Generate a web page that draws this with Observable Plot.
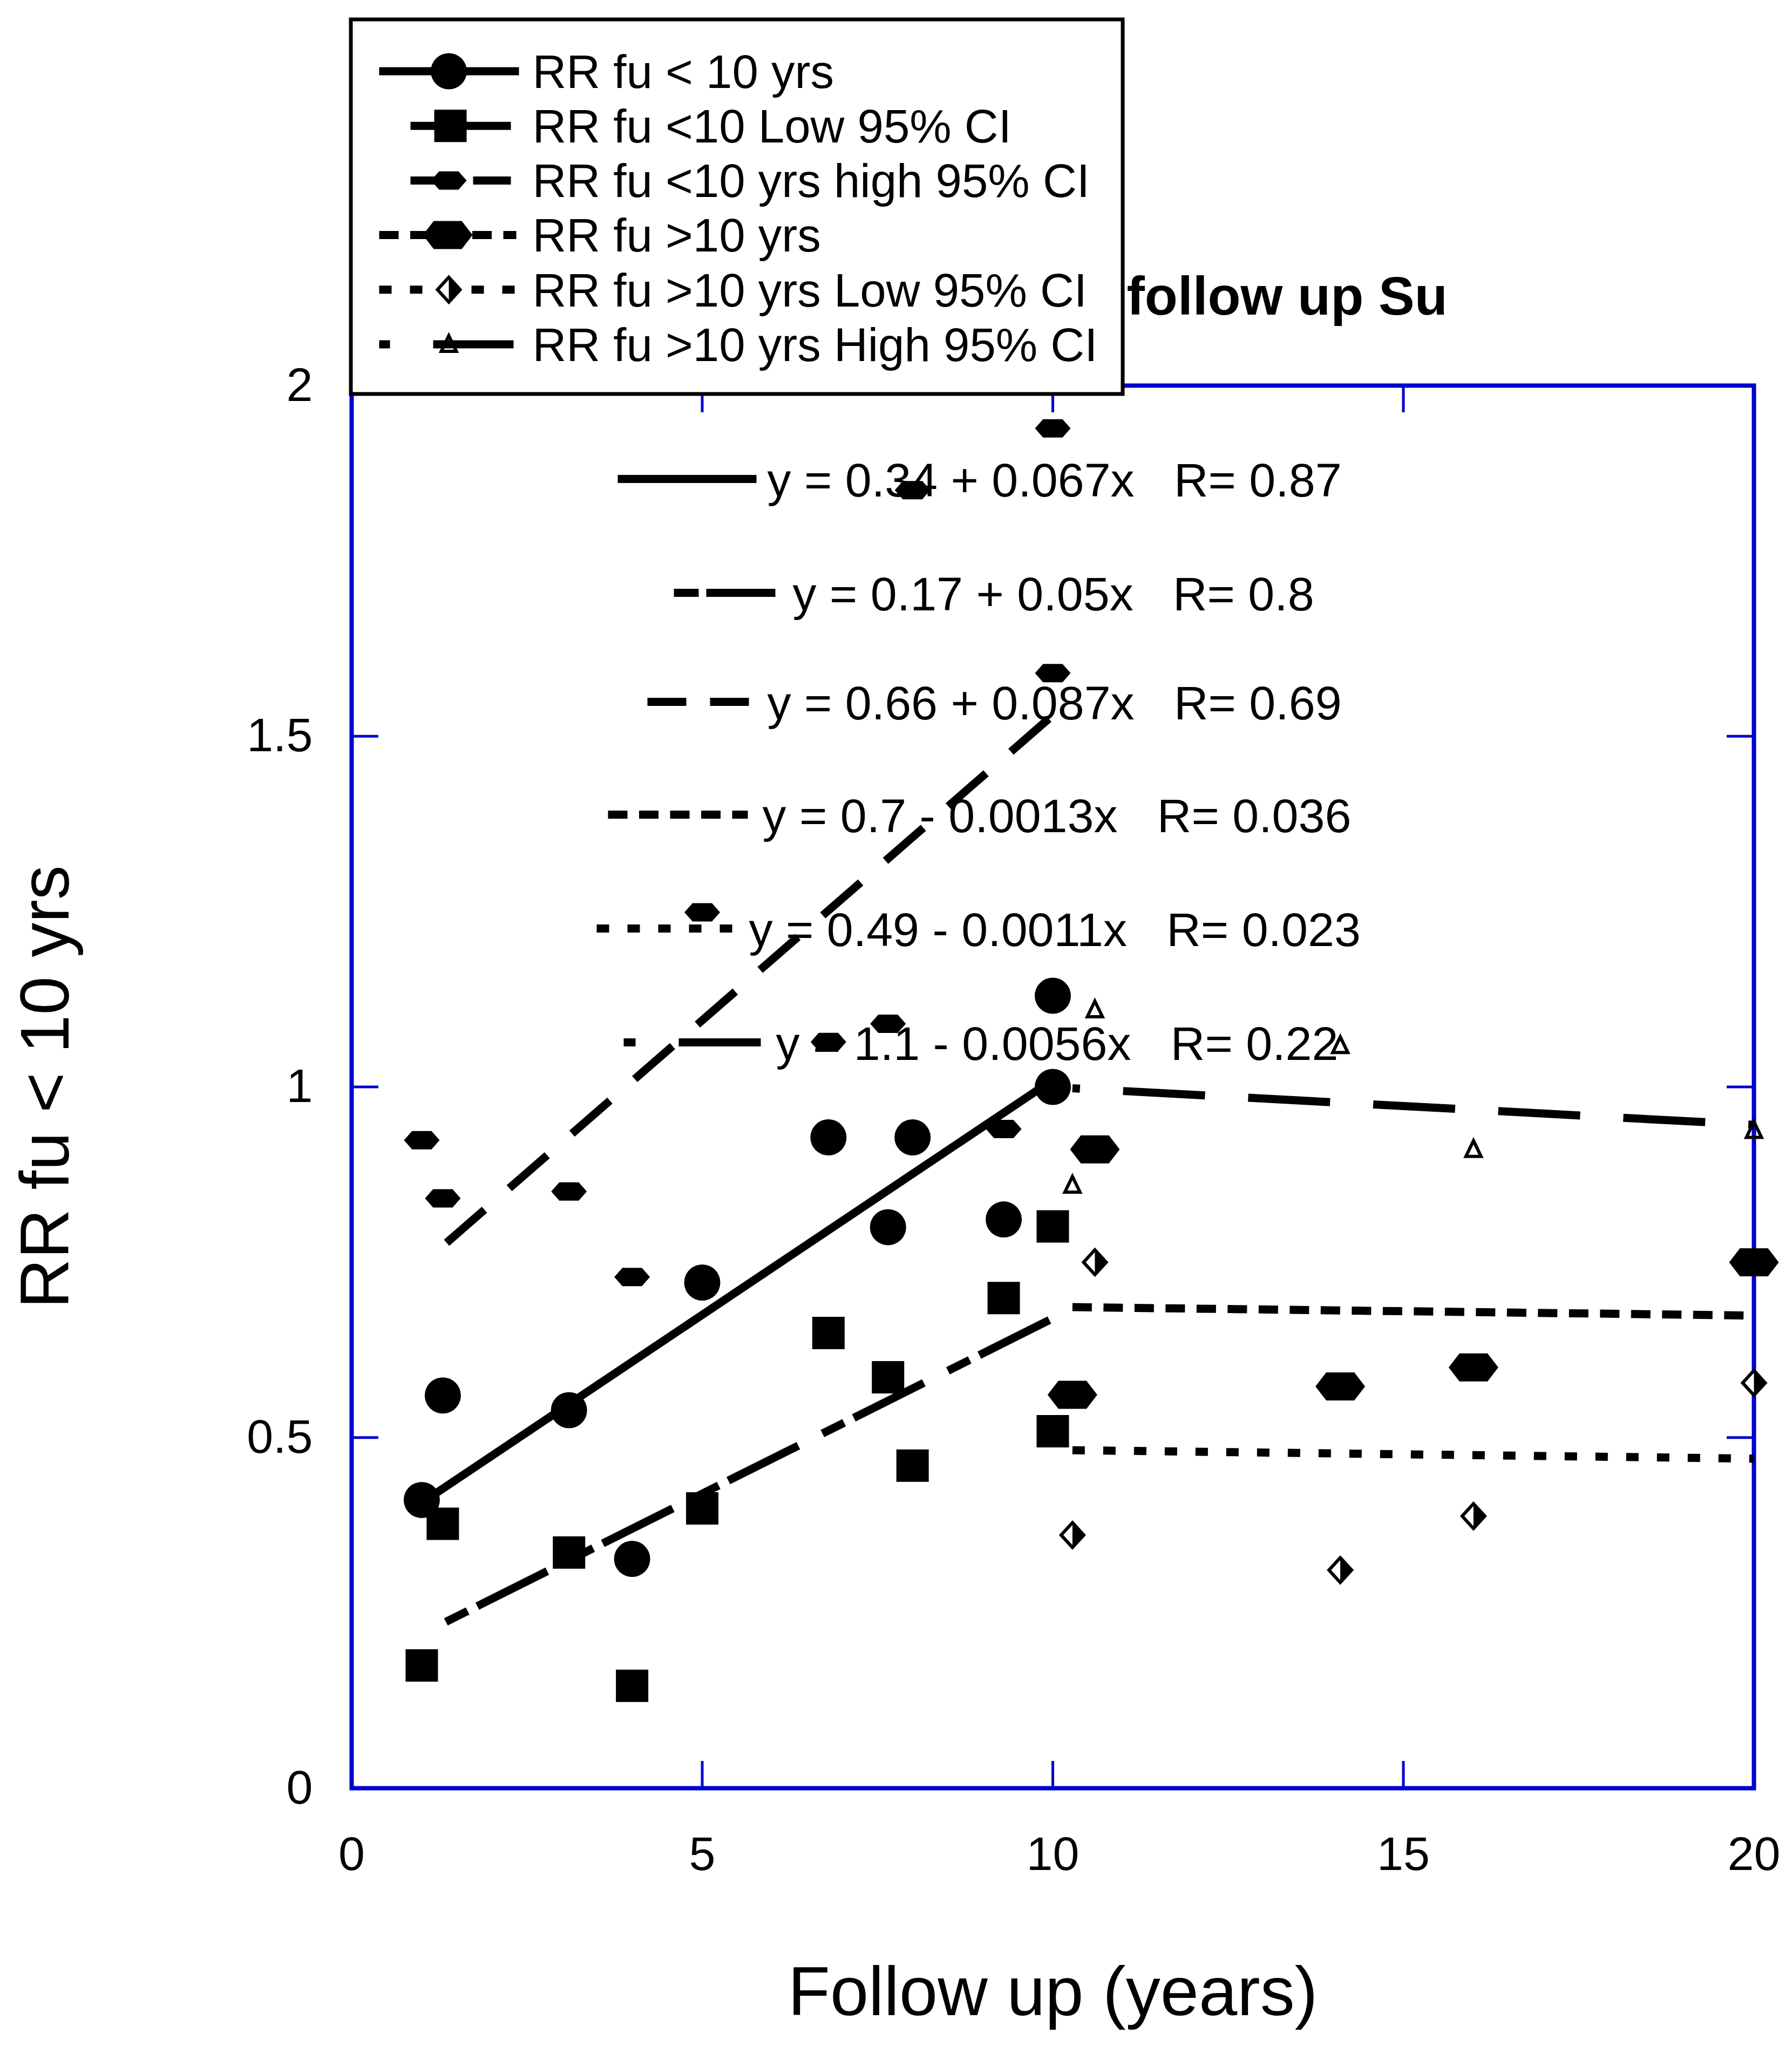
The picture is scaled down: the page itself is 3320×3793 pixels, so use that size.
<!DOCTYPE html>
<html>
<head>
<meta charset="utf-8">
<script src="https://cdn.jsdelivr.net/npm/d3@7"></script>
<script src="https://cdn.jsdelivr.net/npm/@observablehq/plot@0.6"></script>
<style>
  html, body { margin: 0; padding: 0; background: #ffffff; }
  #wrap { position: relative; width: 3320px; height: 3793px; overflow: hidden; }
  #wrap svg { position: absolute; left: 0; top: 0; max-width: none; }
</style>
</head>
<body>
<div id="wrap"></div>
<script>
// ---------------- DATA ----------------
// follow up < 10 years
const xLT10    = [1.0, 1.3, 3.1, 4.0, 5.0, 6.8, 7.65, 8.0, 9.3, 10.0, 10.0];
const rrLT10   = [0.411, 0.560, 0.539, 0.327, 0.721, 0.928, 0.800, 0.928, 0.811, 1.130, 1.000];
const lowLT10  = [0.175, 0.377, 0.336, 0.146, 0.399, 0.649, 0.586, 0.460, 0.699, 0.801, 0.509];
const highLT10 = [0.924, 0.841, 0.851, 0.729, 1.249, 1.064, 1.090, 1.851, 0.940, 1.590, 1.939];
// follow up > 10 years
const xGT10    = [10.28, 10.6, 14.1, 16.0, 20.0];
const rrGT10   = [0.561, 0.911, 0.573, 0.600, 0.750];
const lowGT10  = [0.361, 0.750, 0.311, 0.388, 0.578];
const highGT10 = [0.860, 1.110, 1.059, 0.911, 0.938];
// fitted regression lines: end points
const fitXLT10    = [1, 10];
const fitRrLT10   = [0.407, 1.01];
const fitLowLT10  = [0.22, 0.67];
const fitHighLT10 = [0.747, 1.53];
const fitXGT10    = [10.28, 20];
const fitRrGT10   = [0.686, 0.674];
const fitLowGT10  = [0.482, 0.470];
const fitHighGT10 = [0.998, 0.946];

const seriesNames = [
  "RR fu < 10 yrs",
  "RR fu <10 Low 95% CI",
  "RR fu <10 yrs high 95% CI",
  "RR fu >10 yrs",
  "RR fu >10 yrs Low 95% CI",
  "RR fu >10 yrs High 95% CI"
];
const fitLabels = [
  "y = 0.34 + 0.067x\u00a0\u00a0\u00a0R= 0.87",
  "y = 0.17 + 0.05x\u00a0\u00a0\u00a0R= 0.8",
  "y = 0.66 + 0.087x\u00a0\u00a0\u00a0R= 0.69",
  "y = 0.7 - 0.0013x\u00a0\u00a0\u00a0R= 0.036",
  "y = 0.49 - 0.0011x\u00a0\u00a0\u00a0R= 0.023",
  "y = 1.1 - 0.0056x\u00a0\u00a0\u00a0R= 0.22"
];
const xTicks = [0, 5, 10, 15, 20];
const yTicks = [0, 0.5, 1, 1.5, 2];
const xTitle = "Follow up (years)";
const yTitle = "RR fu < 10 yrs";
const titleText = "follow up Su";

// ---------------- STYLE / LAYOUT ----------------
const W = 3320, H = 3793;
const mL = 651, mR = 71, mT = 714, mB = 480;
const frameW = W - mL - mR, frameH = H - mT - mB;
const BLUE = "#0000d0";
const FONT = "'Liberation Sans', Arial, Helvetica, sans-serif";
const LW = 15;

const kf = s => Math.sqrt(s / Math.PI) / 10;  // r = 10 => 1 unit = 1 px
const poly = pts => ({draw(c, s) { const f = kf(s); pts.forEach(([x, y], i) => i ? c.lineTo(x * f, y * f) : c.moveTo(x * f, y * f)); c.closePath(); }});
const squareSym  = poly([[-30, -30], [30, -30], [30, 30], [-30, 30]]);
const hexSmall   = poly([[-33, 0], [-18, -17], [18, -17], [33, 0], [18, 17], [-18, 17]]);
const hexBig     = poly([[-46, 0], [-26, -26], [26, -26], [46, 0], [26, 26], [-26, 26]]);
const diamondSym = poly([[0, -23], [21, 0], [0, 23], [-21, 0]]);
const diamondR   = poly([[0, -23], [21, 0], [0, 23]]);
const triSym     = poly([[0, -16], [14, 13], [-14, 13]]);

// per series: symbol style, line dash in plot (along the line) and in legends (horizontal)
const styles = [
  {symbol: "circle", r: 33.5, fill: "black", stroke: "none", sw: 0, dash: null, off: 0, hdash: null},
  {symbol: squareSym, r: 10, fill: "black", stroke: "none", sw: 0, dash: "45,20,145,50", off: 210, hdash: "46,14,128,45"},
  {symbol: hexSmall, r: 10, fill: "black", stroke: "none", sw: 0, dash: "93,61", off: 93, hdash: "72,44"},
  {symbol: hexBig, r: 10, fill: "black", stroke: "none", sw: 0, dash: "36,21.5", off: 0, hdash: "36,21.5"},
  {symbol: diamondSym, r: 10, fill: "white", stroke: "black", sw: 6, dash: "23,34", off: 0, hdash: "23,34", extra: diamondR},
  {symbol: triSym, r: 10, fill: "none", stroke: "black", sw: 6, dash: "152,80", off: 138, hdash: "152,80"}
];

function dotMarks(xs, ys, st) {
  const data = xs.map((x, i) => ({x, y: ys[i]}));
  const marks = [Plot.dot(data, {x: "x", y: "y", r: st.r, symbol: st.symbol, fill: st.fill, stroke: st.stroke, strokeWidth: st.sw})];
  if (st.extra) marks.push(Plot.dot(data, {x: "x", y: "y", r: st.r, symbol: st.extra, fill: "black", stroke: "none"}));
  return marks;
}
function fitMark(xs, ys, st) {
  const data = xs.map((x, i) => ({x, y: ys[i]}));
  const o = {x: "x", y: "y", stroke: "black", strokeWidth: LW, strokeLinecap: "butt", strokeLinejoin: "miter"};
  if (st.dash) { o.strokeDasharray = st.dash; o.strokeDashoffset = st.off; }
  return Plot.line(data, o);
}

const innerX = xTicks.slice(1, -1), innerY = yTicks.slice(1, -1);
const fmtY = d => d === 0 ? "0" : String(d);

const main = Plot.plot({
  width: W, height: H,
  marginLeft: mL, marginRight: mR, marginTop: mT, marginBottom: mB,
  x: {domain: [0, 20]},
  y: {domain: [0, 2]},
  style: {fontFamily: FONT, background: "white", color: "black"},
  marks: [
    Plot.frame({stroke: BLUE, strokeWidth: 8}),
    Plot.ruleX(innerX, {stroke: BLUE, strokeWidth: 5, insetTop: frameH - 50}),
    Plot.ruleX(innerX, {stroke: BLUE, strokeWidth: 5, insetBottom: frameH - 50}),
    Plot.ruleY(innerY, {stroke: BLUE, strokeWidth: 5, insetRight: frameW - 50}),
    Plot.ruleY(innerY, {stroke: BLUE, strokeWidth: 5, insetLeft: frameW - 50}),
    Plot.axisX({ticks: xTicks, tickSize: 0, tickPadding: 89, fontSize: 88, tickFormat: d => String(d), label: null, fontFamily: FONT}),
    Plot.axisY({ticks: yTicks, tickSize: 0, tickPadding: 72, fontSize: 88, tickFormat: fmtY, label: null, fontFamily: FONT}),
    Plot.text([xTitle], {text: d => d, frameAnchor: "bottom", dy: 380, fontSize: 128, textAnchor: "middle", lineAnchor: "middle", fontFamily: FONT, fill: "black"}),
    Plot.text([yTitle], {text: d => d, frameAnchor: "left", dx: -565, rotate: -90, fontSize: 128, textAnchor: "middle", lineAnchor: "middle", fontFamily: FONT, fill: "black"}),
    fitMark(fitXLT10, fitRrLT10, styles[0]),
    fitMark(fitXLT10, fitLowLT10, styles[1]),
    fitMark(fitXLT10, fitHighLT10, styles[2]),
    fitMark(fitXGT10, fitRrGT10, styles[3]),
    fitMark(fitXGT10, fitLowGT10, styles[4]),
    fitMark(fitXGT10, fitHighGT10, styles[5]),
    ...dotMarks(xLT10, rrLT10, styles[0]),
    ...dotMarks(xLT10, lowLT10, styles[1]),
    ...dotMarks(xLT10, highLT10, styles[2]),
    ...dotMarks(xGT10, rrGT10, styles[3]),
    ...dotMarks(xGT10, lowGT10, styles[4]),
    ...dotMarks(xGT10, highGT10, styles[5])
  ]
});

// ---------------- overlay: title, fit equations, legend (pixel layout) ----------------
const legendBox = {x1: 650, x2: 2080, y1: 36, y2: 730};
const legendRowY = seriesNames.map((_, i) => 134.5 + 101.2 * i);
const legendLine = [[702, 961], [760, 946], [760, 946], [702, 956], [702, 956], [702, 951]];
const legendOff  = [0, 0, 0, 0, 0, 132];
const legendSymX = [831, 834, 831, 829, 831, 831];
const legendTextX = 986;

const eqRowY  = [891, 1102, 1304, 1513, 1724, 1935];
const eqTextX = [1421, 1468, 1421, 1412, 1387, 1437];
const eqLine  = [[1144, 1401], [1248, 1437], [1199, 1387], [1126, 1385], [1105, 1356], [1155, 1409]];
const eqOff   = [0, 0, 0, 0, 0, 130];

function sampleMarks(x1, x2, y, st, off) {
  const o = {x: "x", y: "y", stroke: "black", strokeWidth: LW, strokeLinecap: "butt"};
  if (st.hdash) { o.strokeDasharray = st.hdash; o.strokeDashoffset = off; }
  return Plot.line([{x: x1, y}, {x: x2, y}], o);
}
function symMarks(x, y, st) {
  return dotMarks([x], [y], st);
}

const overlayMarks = [
  Plot.text([titleText], {text: d => d, x: () => 2087, y: () => 550, textAnchor: "start", lineAnchor: "middle", fontSize: 100, fontWeight: "bold", fontFamily: FONT, fill: "black"})
];
fitLabels.forEach((lab, i) => {
  overlayMarks.push(sampleMarks(eqLine[i][0], eqLine[i][1], eqRowY[i] - 4, styles[i], eqOff[i]));
  overlayMarks.push(Plot.text([lab], {text: d => d, x: () => eqTextX[i], y: () => eqRowY[i], textAnchor: "start", lineAnchor: "middle", fontSize: 88, fontFamily: FONT, fill: "black"}));
});
overlayMarks.push(Plot.rect([legendBox], {x1: "x1", x2: "x2", y1: "y1", y2: "y2", fill: "white", stroke: "black", strokeWidth: 7}));
seriesNames.forEach((name, i) => {
  const y = legendRowY[i];
  overlayMarks.push(sampleMarks(legendLine[i][0], legendLine[i][1], y - 3, styles[i], legendOff[i]));
  overlayMarks.push(...symMarks(legendSymX[i], y - 3, styles[i]));
  overlayMarks.push(Plot.text([name], {text: d => d, x: () => legendTextX, y: () => y, textAnchor: "start", lineAnchor: "middle", fontSize: 87, fontFamily: FONT, fill: "black"}));
});

const overlay = Plot.plot({
  width: W, height: H,
  marginLeft: 0, marginRight: 0, marginTop: 0, marginBottom: 0,
  x: {domain: [0, W], range: [0, W], axis: null},
  y: {domain: [0, H], range: [0, H], axis: null},
  style: {fontFamily: FONT, background: "transparent", color: "black"},
  marks: overlayMarks
});

const wrap = document.getElementById("wrap");
wrap.appendChild(main);
wrap.appendChild(overlay);
</script>
</body>
</html>
